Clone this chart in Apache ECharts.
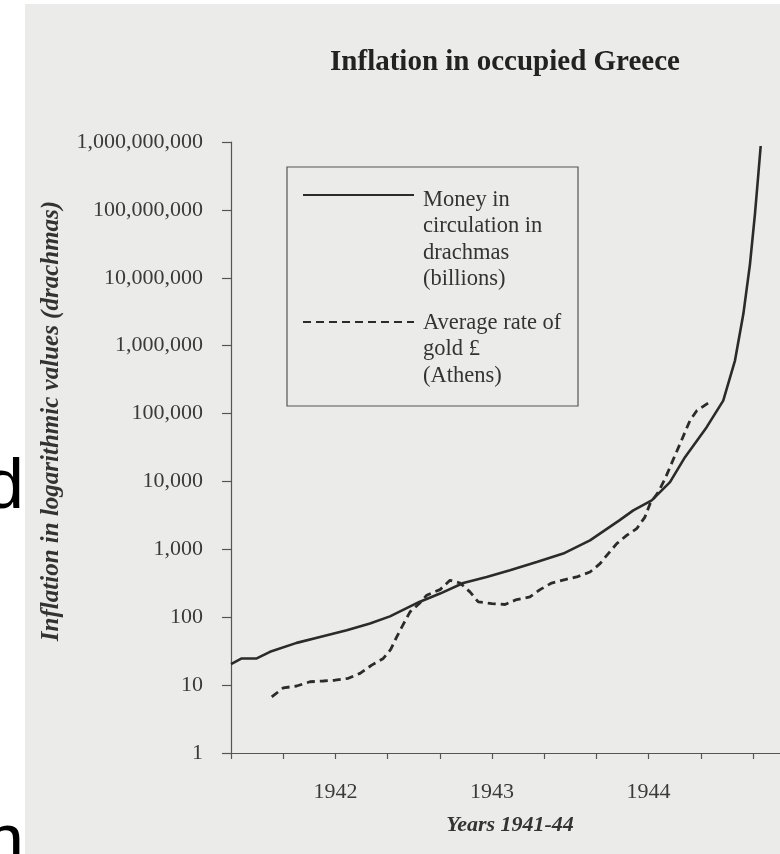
<!DOCTYPE html>
<html><head><meta charset="utf-8">
<script src="https://cdn.jsdelivr.net/npm/echarts@6/dist/echarts.min.js"></script>
<style>html,body{margin:0;padding:0;background:#fff}#c{width:780px;height:854px}</style>
</head><body><div id="c"></div>
<script>
// months counted from January 1941 (0); Jan 1942 = 12, Jan 1943 = 24, Jan 1944 = 36
const moneyMonths = [4.0, 4.82, 5.97, 6.99, 9.03, 10.82, 12.87, 14.65, 16.18, 18.43, 20.02, 21.8, 23.59, 25.38, 27.43, 29.46, 31.51, 33.76, 34.83, 36.24, 37.64, 38.79, 40.45, 41.72, 42.62, 43.26, 43.77, 44.15, 44.41, 44.59];
const moneyValues = [20.4, 24.7, 24.7, 30.9, 41.9, 51.3, 64.4, 80.8, 103, 168, 223, 319, 392, 491, 650, 865, 1357, 2670, 3750, 5250, 9770, 22800, 63000, 155000, 603000, 2920000, 15900000, 86500000, 335000000, 873000000];
const goldMonths = [7.12, 8.01, 9.03, 10.05, 11.07, 11.97, 12.99, 13.89, 14.78, 15.67, 16.24, 16.7, 17.16, 17.72, 18.43, 19.0, 20.02, 20.78, 21.55, 22.31, 22.95, 23.98, 25.0, 25.89, 26.91, 27.68, 28.57, 29.59, 30.49, 31.51, 32.28, 32.91, 33.56, 34.32, 35.09, 35.72, 36.11, 36.74, 37.26, 37.64, 38.02, 38.41, 38.79, 39.17, 39.69, 40.65];
const goldValues = [6.7, 9.1, 9.7, 11.2, 11.5, 11.8, 12.6, 14.9, 19.7, 24.7, 33.5, 51.3, 76, 120, 159, 211, 255, 350, 319, 236, 168, 159, 154, 182, 199, 255, 319, 358, 392, 464, 616, 865, 1213, 1607, 2016, 2985, 4700, 6970, 10960, 16200, 24100, 35800, 53100, 78900, 110000, 146600];
const xTickMonths = [4, 8, 12, 16, 20, 24, 28, 32, 36, 40, 44];
const yearTicks = [12, 24, 36];
const yearLabels = ['1942', '1943', '1944'];
const seriesNames = ['Money in\ncirculation in\ndrachmas\n(billions)', 'Average rate of\ngold £\n(Athens)'];
const titleText = 'Inflation in occupied Greece';
const xAxisTitle = 'Years 1941-44';
const yAxisTitle = 'Inflation in logarithmic values (drachmas)';

const SERIF = '"Liberation Serif", "DejaVu Serif", serif';
const INK = '#2b2b2b';
const chart = echarts.init(document.getElementById('c'), null, {renderer: 'canvas'});
const zip = (a, b) => a.map((v, i) => [v, b[i]]);
const legendText = (spacer, count) => name =>
  Array(count).fill('{' + spacer + '| }').join('\n') + '\n' +
  name.split('\n').map(l => '{t|' + l + '}').join('\n');
const legendRich = {
  t: {fontFamily: SERIF, fontSize: 22.5, lineHeight: 26.5, color: '#333', padding: [0, 0, 0, 4]},
  s1: {fontSize: 4, lineHeight: 29.8},
  s2: {fontSize: 4, lineHeight: 27.5}
};

chart.setOption({
  animation: false,
  backgroundColor: '#ffffff',
  title: {
    text: titleText, left: 505, top: 48, textAlign: 'center', padding: 0,
    textStyle: {fontFamily: SERIF, fontSize: 29, fontWeight: 'bold', color: '#222'}
  },
  grid: {left: 231, top: 142, right: 0, height: 611},
  xAxis: {
    type: 'value', min: 4, max: 46.07, interval: 4,
    name: xAxisTitle, nameLocation: 'middle', nameGap: 61,
    nameTextStyle: {fontFamily: SERIF, fontSize: 22, fontWeight: 'bold', fontStyle: 'italic', color: '#333', padding: [0, 0, 0, 9]},
    axisLine: {lineStyle: {color: '#555', width: 1.2}},
    axisTick: {length: 6, customValues: xTickMonths, lineStyle: {color: '#555', width: 1.2}},
    splitLine: {show: false},
    axisLabel: {
      margin: 28, customValues: yearTicks,
      fontFamily: SERIF, fontSize: 22, color: '#3a3a3a',
      formatter: v => { const i = yearTicks.indexOf(v); return i >= 0 ? yearLabels[i] : ''; }
    }
  },
  yAxis: {
    type: 'log', logBase: 10, min: 1, max: 1e9,
    axisLine: {show: true, lineStyle: {color: '#555', width: 1.2}},
    axisTick: {show: true, length: 9, lineStyle: {color: '#555', width: 1.2}},
    splitLine: {show: false},
    minorTick: {show: false},
    axisLabel: {
      margin: 28, fontFamily: SERIF, fontSize: 22, color: '#3a3a3a',
      formatter: v => Math.round(v).toLocaleString('en-US')
    }
  },
  legend: [
    {
      data: [seriesNames[0]], orient: 'vertical', left: 302, top: 97.3, padding: 0,
      itemWidth: 111, itemHeight: 14, selectedMode: false,
      itemStyle: {opacity: 0},
      formatter: legendText('s1', 3),
      textStyle: {fontFamily: SERIF, fontSize: 22.5, lineHeight: 26.5, color: '#333', rich: legendRich}
    },
    {
      data: [seriesNames[1]], orient: 'vertical', left: 302, top: 254.75, padding: 0,
      itemWidth: 111, itemHeight: 14, selectedMode: false,
      itemStyle: {opacity: 0},
      formatter: legendText('s2', 2),
      textStyle: {fontFamily: SERIF, fontSize: 22.5, lineHeight: 26.5, color: '#333', rich: legendRich}
    }
  ],
  graphic: [
    {type: 'rect', z: -10, silent: true, shape: {x: 25, y: 4, width: 760, height: 860}, style: {fill: '#ebebea'}},
    {type: 'rect', z: 1, silent: true, shape: {x: 287, y: 167, width: 291, height: 239}, style: {fill: 'none', stroke: '#555', lineWidth: 1.2}},
    {type: 'text', z: 5, silent: true, x: 52, y: 421, rotation: Math.PI / 2,
     style: {text: yAxisTitle, align: 'center', verticalAlign: 'middle', fill: '#333',
             font: 'italic bold 25px "Liberation Serif", serif'}},
    {type: 'text', z: 5, silent: true, x: 24, y: 488,
     style: {text: 'd', align: 'right', verticalAlign: 'middle', fill: '#000', font: '71px "Liberation Sans", sans-serif'}},
    {type: 'text', z: 5, silent: true, x: 24, y: 843,
     style: {text: 'n', align: 'right', verticalAlign: 'middle', fill: '#000', font: '71px "Liberation Sans", sans-serif'}}
  ],
  series: [
    {
      name: seriesNames[0], type: 'line', data: zip(moneyMonths, moneyValues),
      showSymbol: false, symbol: 'none', smooth: false,
      lineStyle: {color: INK, width: 2.6}, itemStyle: {color: INK}
    },
    {
      name: seriesNames[1], type: 'line', data: zip(goldMonths, goldValues),
      showSymbol: false, symbol: 'none', smooth: false,
      lineStyle: {color: INK, width: 2.8, type: [8, 5]}, itemStyle: {color: INK}
    }
  ]
});
</script></body></html>
